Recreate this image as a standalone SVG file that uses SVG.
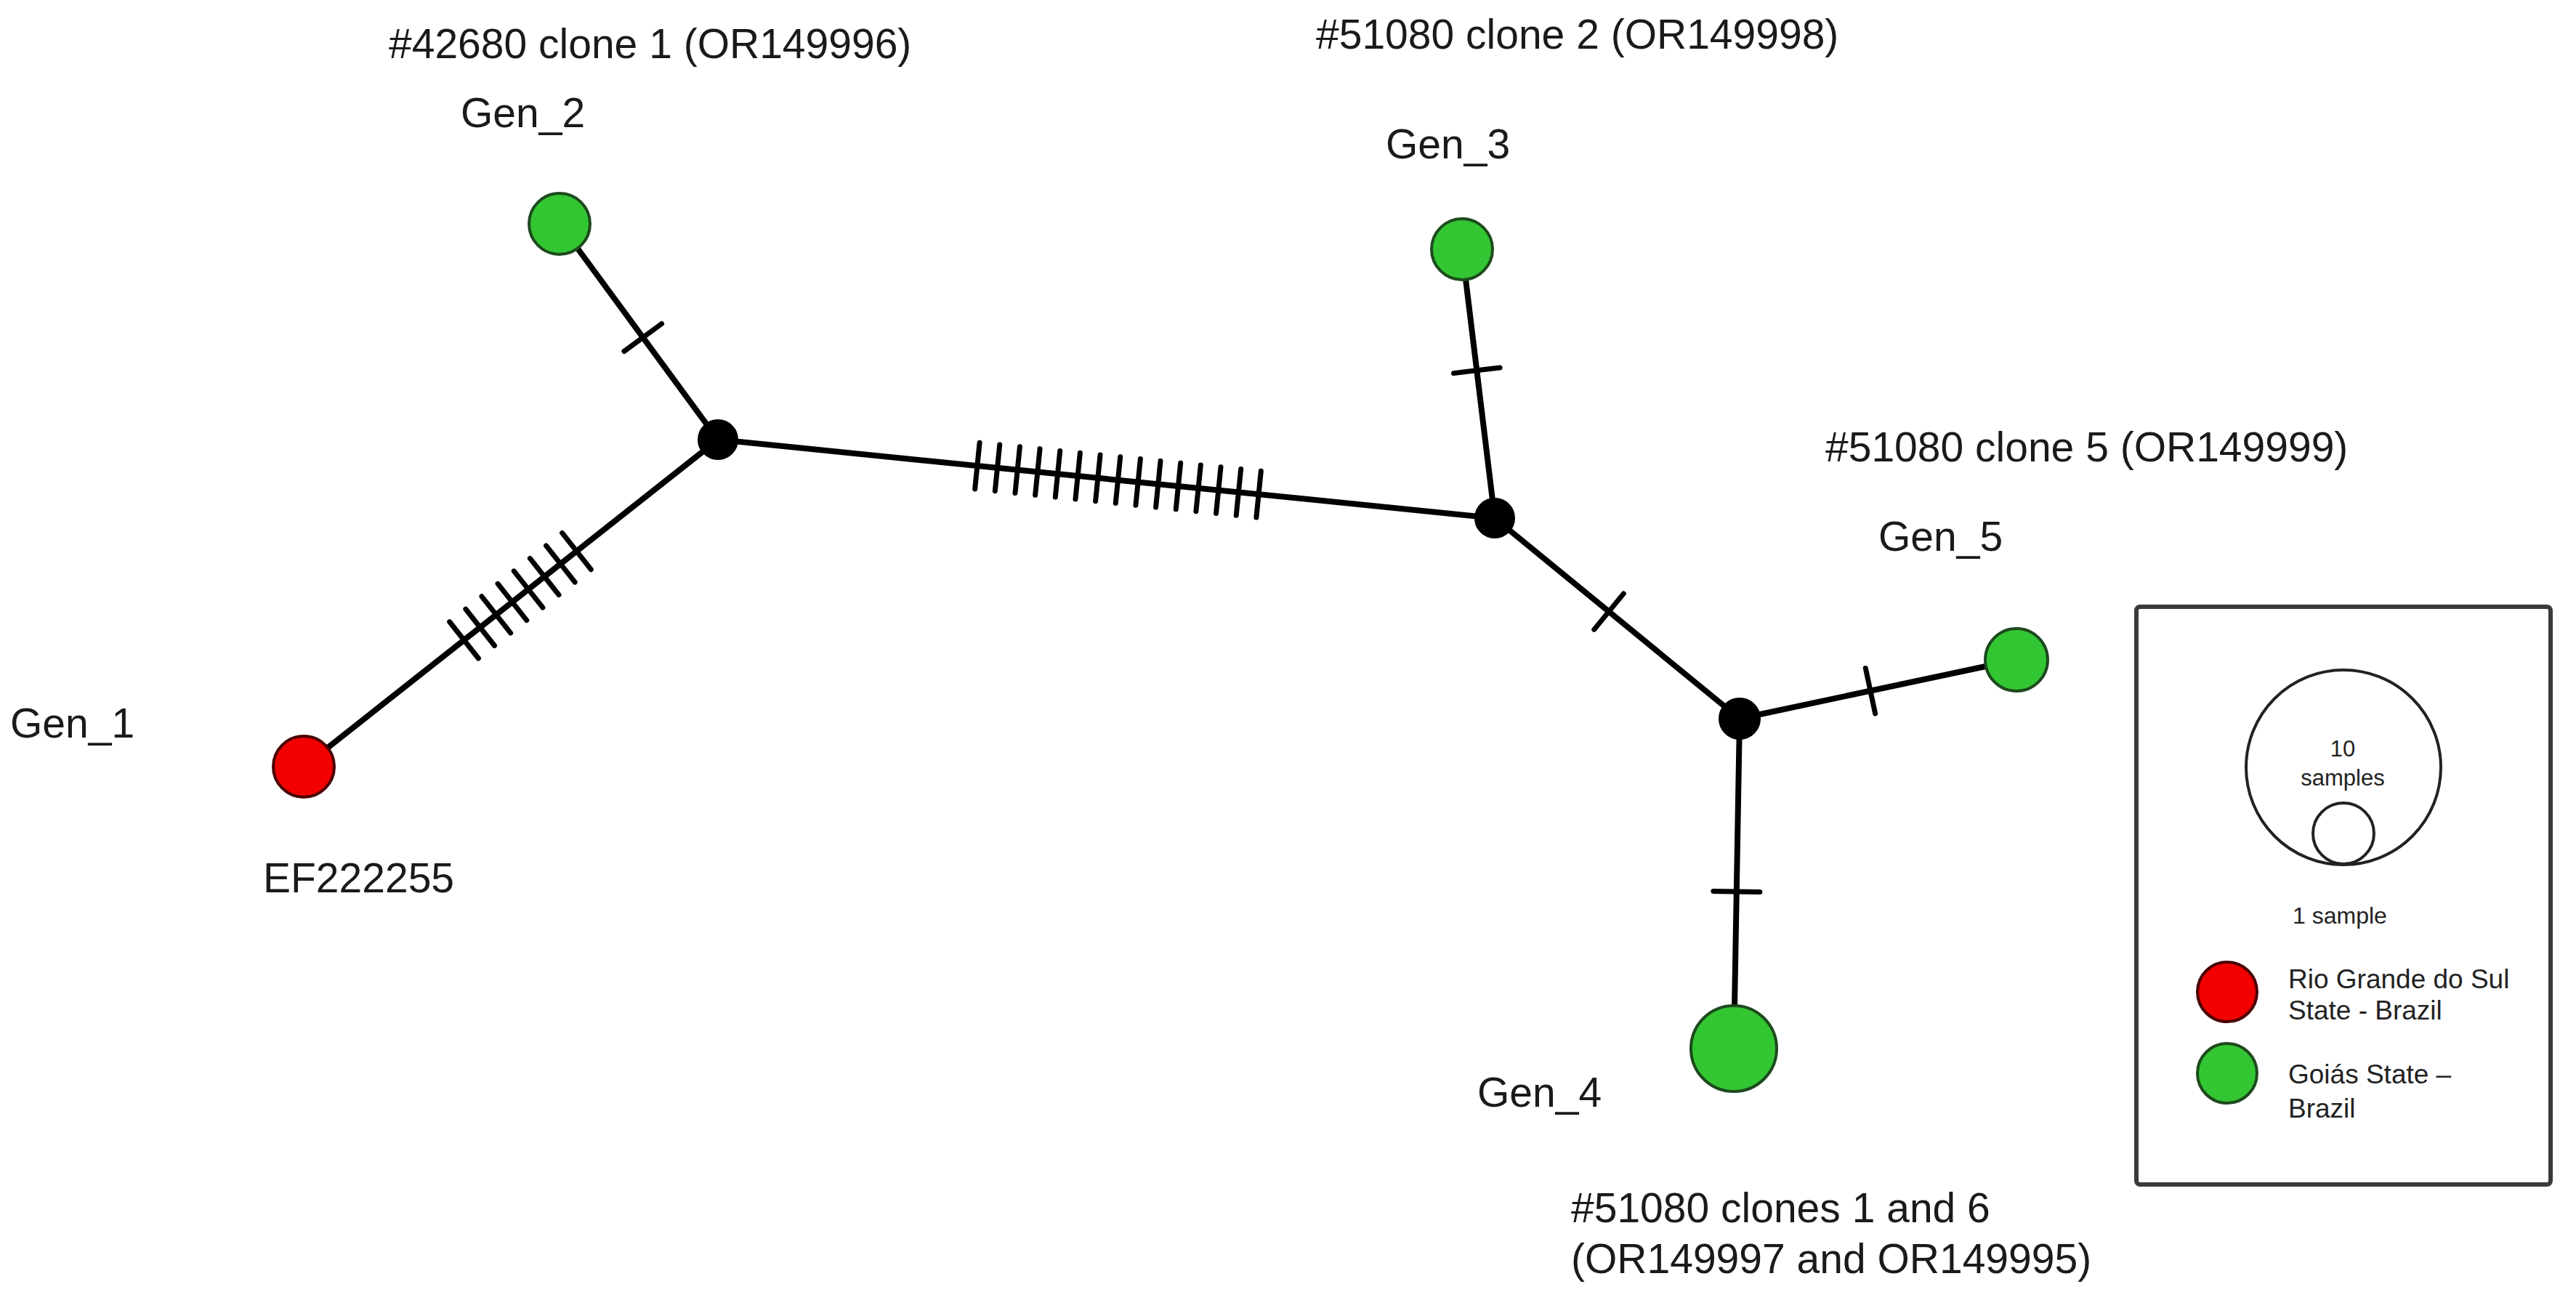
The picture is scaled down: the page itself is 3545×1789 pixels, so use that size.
<svg xmlns="http://www.w3.org/2000/svg" width="3545" height="1789" viewBox="0 0 3545 1789">
<style>
.edge{stroke:#000;stroke-width:8;stroke-linecap:round;fill:none}
.tick{stroke:#000;stroke-width:7;stroke-linecap:round}
.med{fill:#000;stroke:#000;stroke-width:2}
.g{fill:#33c633;stroke:#1d4a1d;stroke-width:4}
.r{fill:#f20000;stroke:#4a0000;stroke-width:4}
.lbl{font-family:"Liberation Sans",Arial,sans-serif;font-size:57px;fill:#1a1a1a}
.leg{font-family:"Liberation Sans",Arial,sans-serif;fill:#222}
</style>
<defs>
<line id="tk" class="tick" x1="0" y1="-32" x2="0" y2="32"/>
</defs>
<rect width="3545" height="1789" fill="#fff"/>
<g id="connectors">
<line class="edge" x1="418" y1="1055" x2="988" y2="605"/>
<line class="edge" x1="770" y1="308" x2="988" y2="605"/>
<line class="edge" x1="988" y1="605" x2="2057" y2="713"/>
<line class="edge" x1="2012" y1="343" x2="2057" y2="713"/>
<line class="edge" x1="2057" y1="713" x2="2394" y2="989"/>
<line class="edge" x1="2394" y1="989" x2="2775" y2="908"/>
<line class="edge" x1="2394" y1="989" x2="2386" y2="1443"/>
<g transform="translate(418,1055) rotate(-38.29)">
<use href="#tk" x="281"/><use href="#tk" x="309.2"/><use href="#tk" x="337.4"/><use href="#tk" x="365.6"/><use href="#tk" x="393.8"/><use href="#tk" x="422"/><use href="#tk" x="450.2"/><use href="#tk" x="478.4"/>
</g>
<g transform="translate(988,605) rotate(5.77)">
<use href="#tk" x="358.7"/><use href="#tk" x="386.5"/><use href="#tk" x="414.3"/><use href="#tk" x="442.1"/><use href="#tk" x="469.9"/><use href="#tk" x="497.7"/><use href="#tk" x="525.5"/><use href="#tk" x="553.3"/><use href="#tk" x="581.1"/><use href="#tk" x="608.9"/><use href="#tk" x="636.7"/><use href="#tk" x="664.5"/><use href="#tk" x="692.3"/><use href="#tk" x="720.1"/><use href="#tk" x="747.9"/>
</g>
<g transform="translate(770,308) rotate(53.72)"><use href="#tk" x="194"/></g>
<g transform="translate(2012,343) rotate(83.07)"><use href="#tk" x="168"/></g>
<g transform="translate(2057,713) rotate(39.32)"><use href="#tk" x="203"/></g>
<g transform="translate(2394,989) rotate(-12)"><use href="#tk" x="184"/></g>
<g transform="translate(2394,989) rotate(91)"><use href="#tk" x="238"/></g>
</g>
<g id="median1"><circle class="med" cx="988" cy="605" r="27"/></g>
<g id="median2"><circle class="med" cx="2057" cy="713" r="27"/></g>
<g id="median3"><circle class="med" cx="2394" cy="989" r="28"/></g>
<g id="gen1">
<circle class="r" cx="418" cy="1055" r="42"/>
<text class="lbl" x="14" y="1015">Gen_1</text>
<text class="lbl" x="362" y="1228">EF222255</text>
</g>
<g id="gen2">
<circle class="g" cx="770" cy="308" r="42"/>
<text class="lbl" x="634" y="175">Gen_2</text>
<text class="lbl" x="535" y="80">#42680 clone 1 (OR149996)</text>
</g>
<g id="gen3">
<circle class="g" cx="2012" cy="343" r="42"/>
<text class="lbl" x="1907" y="218">Gen_3</text>
<text class="lbl" x="1811" y="67">#51080 clone 2 (OR149998)</text>
</g>
<g id="gen4">
<circle class="g" cx="2386" cy="1443" r="59"/>
<text class="lbl" x="2033" y="1523">Gen_4</text>
<text class="lbl" x="2162" y="1682">#51080 clones 1 and 6</text>
<text class="lbl" x="2162" y="1752">(OR149997 and OR149995)</text>
</g>
<g id="gen5">
<circle class="g" cx="2775" cy="908" r="43"/>
<text class="lbl" x="2585" y="758">Gen_5</text>
<text class="lbl" x="2512" y="635">#51080 clone 5 (OR149999)</text>
</g>
<g id="legend">
<rect x="2940" y="835" width="570" height="795" rx="5" fill="#fff" stroke="#3a3a3a" stroke-width="6"/>
<circle cx="3225" cy="1056" r="134" fill="none" stroke="#222" stroke-width="4"/>
<circle cx="3225" cy="1147" r="42" fill="#fff" stroke="#222" stroke-width="4"/>
<text class="leg" x="3224" y="1041" font-size="31" text-anchor="middle">10</text>
<text class="leg" x="3224" y="1081" font-size="31" text-anchor="middle">samples</text>
<text class="leg" x="3155" y="1271" font-size="32">1 sample</text>
<circle class="r" cx="3065" cy="1365" r="41"/>
<circle class="g" cx="3065" cy="1477" r="41"/>
<text class="leg" x="3149" y="1360" font-size="37">Rio Grande do Sul</text>
<text class="leg" x="3149" y="1403" font-size="37">State - Brazil</text>
<text class="leg" x="3149" y="1491" font-size="37">Goiás State –</text>
<text class="leg" x="3149" y="1538" font-size="37">Brazil</text>
</g>
</svg>
